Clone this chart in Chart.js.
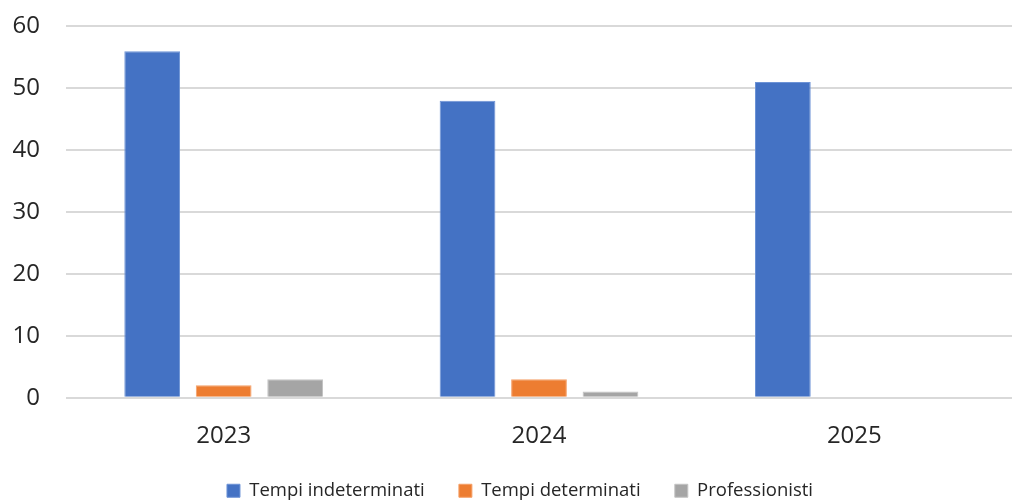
<!DOCTYPE html>
<html>
<head>
<meta charset="utf-8">
<script src="https://cdn.jsdelivr.net/npm/chart.js@4"></script>
<style>
  html, body { margin: 0; padding: 0; background: #fff; }
  #wrap { width: 1012px; height: 500px; }
</style>
</head>
<body>
<div id="wrap"><canvas id="chart"></canvas></div>
<script>
const years = ["2023", "2024", "2025"];
const tempiIndeterminati = [56, 48, 51];
const tempiDeterminati = [2, 3, 0];
const professionisti = [3, 1, 0];
const yTicks = [0, 10, 20, 30, 40, 50, 60];

const font = "'Open Sans', 'Noto Sans', sans-serif";

// the legend sits a bit right of the canvas centre in the original
const legendShift = {
    id: 'legendShift',
    afterLayout(chart) {
        if (chart.legend) {
            chart.legend.left += 14;
            chart.legend.right += 14;
        }
    }
};

new Chart(document.getElementById("chart"), {
    type: 'bar',
    data: {
        labels: years,
        datasets: [
            { label: "Tempi indeterminati", data: tempiIndeterminati, backgroundColor: "#4472C4", borderColor: "#6d93d6", borderWidth: 1 },
            { label: "Tempi determinati", data: tempiDeterminati, backgroundColor: "#ED7D31", borderColor: "#f5a068", borderWidth: 1 },
            { label: "Professionisti", data: professionisti, backgroundColor: "#A5A5A5", borderColor: "#c4c4c4", borderWidth: 1 }
        ]
    },
    options: {
        responsive: true,
        maintainAspectRatio: false,
        animation: false,
        layout: { padding: { top: 0, right: 0, left: 0, bottom: -10 } },
        datasets: { bar: { categoryPercentage: 0.68, barPercentage: 0.78 } },
        scales: {
            x: {
                grid: { display: false },
                border: { display: false },
                ticks: { color: "#262626", font: { family: font, size: 24 }, padding: 16 }
            },
            y: {
                min: 0,
                max: 60,
                afterBuildTicks: (axis) => { axis.ticks = yTicks.map(v => ({ value: v })); },
                afterFit: (axis) => { axis.width = 66; },
                border: { display: false },
                grid: { color: "#d9d9d9", lineWidth: 2, drawTicks: true, tickLength: 14, tickColor: "rgba(0,0,0,0)" },
                ticks: { color: "#262626", font: { family: font, size: 24 }, padding: 12 }
            }
        },
        plugins: {
            legend: {
                position: 'bottom',
                labels: {
                    color: "#262626",
                    font: { family: font, size: 18.5 },
                    boxWidth: 13,
                    boxHeight: 13,
                    padding: 15,
                    // extra gap between entries without a taller legend
                    generateLabels: (chart) => {
                        const items = Chart.defaults.plugins.legend.labels.generateLabels(chart);
                        items.forEach((it, i) => {
                            if (i < items.length - 1) it.text += "\u00a0\u00a0\u00a0\u00a0";
                        });
                        return items;
                    }
                }
            },
            tooltip: { enabled: false }
        }
    },
    plugins: [legendShift]
});
</script>
</body>
</html>
